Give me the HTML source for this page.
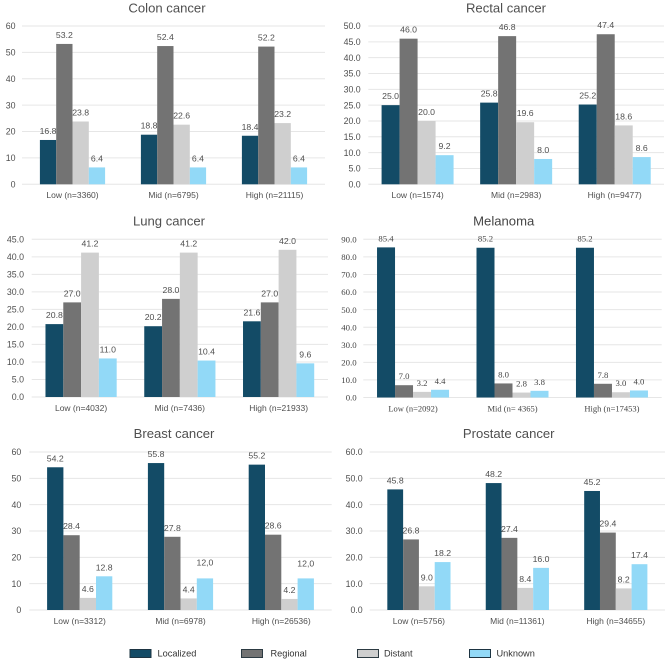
<!DOCTYPE html>
<html lang="en">
<head>
<meta charset="utf-8">
<title>Cancer stage distribution by group</title>
<style>
  html, body { margin: 0; padding: 0; background: #ffffff; }
  #figure { display: block; width: 669px; height: 661px; filter: blur(0.3px); }
  text { font-family: "Liberation Sans", Arial, sans-serif; fill: #4f4f4f; }
  .serif text { font-family: "Liberation Serif", "Times New Roman", serif; fill: #454545; }
  .serif .chart-title { font-family: "Liberation Sans", Arial, sans-serif; }
</style>
</head>
<body>
<svg id="figure" xmlns="http://www.w3.org/2000/svg" width="669" height="661" viewBox="0 0 669 661">
  <rect x="0" y="0" width="669" height="661" fill="#ffffff"/>
  <g id="charts"></g>
  <g id="legend">
    <g>
      <rect x="130" y="649.5" width="21" height="8" fill="#134b66" stroke="#1d3442" stroke-width="1"/>
      <text x="157.5" y="656.5" font-size="9.2" style="fill:#333333">Localized</text>
    </g>
    <g>
      <rect x="241.5" y="649.5" width="21" height="8" fill="#737373" stroke="#2c3a42" stroke-width="1"/>
      <text x="270.5" y="656.5" font-size="9.2" style="fill:#333333">Regional</text>
    </g>
    <g>
      <rect x="357.5" y="649.5" width="21" height="8" fill="#cfcfcf" stroke="#2c3a42" stroke-width="1"/>
      <text x="384" y="656.5" font-size="9.2" style="fill:#333333">Distant</text>
    </g>
    <g>
      <rect x="469.5" y="649.5" width="21" height="8" fill="#92d9f7" stroke="#1d3442" stroke-width="1"/>
      <text x="496.5" y="656.5" font-size="9.2" style="fill:#333333">Unknown</text>
    </g>
  </g>
</svg>
<script>
// Chart data
const seriesNames = ["localized", "regional", "distant", "unknown"];

const colonCategories = ["Low (n=3360)", "Mid (n=6795)", "High (n=21115)"];
const colonTicks = ["0", "10", "20", "30", "40", "50", "60"];
const colonLocalized = [16.8, 18.8, 18.4];
const colonRegional = [53.2, 52.4, 52.2];
const colonDistant = [23.8, 22.6, 23.2];
const colonUnknown = [6.4, 6.4, 6.4];

const rectalCategories = ["Low (n=1574)", "Mid (n=2983)", "High (n=9477)"];
const rectalTicks = ["0.0", "5.0", "10.0", "15.0", "20.0", "25.0", "30.0", "35.0", "40.0", "45.0", "50.0"];
const rectalLocalized = [25.0, 25.8, 25.2];
const rectalRegional = [46.0, 46.8, 47.4];
const rectalDistant = [20.0, 19.6, 18.6];
const rectalUnknown = [9.2, 8.0, 8.6];

const lungCategories = ["Low (n=4032)", "Mid (n=7436)", "High (n=21933)"];
const lungTicks = ["0.0", "5.0", "10.0", "15.0", "20.0", "25.0", "30.0", "35.0", "40.0", "45.0"];
const lungLocalized = [20.8, 20.2, 21.6];
const lungRegional = [27.0, 28.0, 27.0];
const lungDistant = [41.2, 41.2, 42.0];
const lungUnknown = [11.0, 10.4, 9.6];

const melanomaCategories = ["Low (n=2092)", "Mid (n= 4365)", "High (n=17453)"];
const melanomaTicks = ["0.0", "10.0", "20.0", "30.0", "40.0", "50.0", "60.0", "70.0", "80.0", "90.0"];
const melanomaLocalized = [85.4, 85.2, 85.2];
const melanomaRegional = [7.0, 8.0, 7.8];
const melanomaDistant = [3.2, 2.8, 3.0];
const melanomaUnknown = [4.4, 3.8, 4.0];

const breastCategories = ["Low (n=3312)", "Mid (n=6978)", "High (n=26536)"];
const breastTicks = ["0", "10", "20", "30", "40", "50", "60"];
const breastLocalized = [54.2, 55.8, 55.2];
const breastRegional = [28.4, 27.8, 28.6];
const breastDistant = [4.6, 4.4, 4.2];
const breastUnknown = [12.8, 12.0, 12.0];
const breastUnknownPrinted = ["12.8", "12,0", "12,0"];

const prostateCategories = ["Low (n=5756)", "Mid (n=11361)", "High (n=34655)"];
const prostateTicks = ["0.0", "10.0", "20.0", "30.0", "40.0", "50.0", "60.0"];
const prostateLocalized = [45.8, 48.2, 45.2];
const prostateRegional = [26.8, 27.4, 29.4];
const prostateDistant = [9.0, 8.4, 8.2];
const prostateUnknown = [18.2, 16.0, 17.4];

// Layout and style
const seriesColors = ["#134b66", "#737373", "#cfcfcf", "#92d9f7"];
const SVG_NS = "http://www.w3.org/2000/svg";

const charts = [
  { key: "colon", title: "Colon cancer", titleX: 167, titleY: 12.5, left: 22, right: 325, top: 26, bottom: 184.3, barW: 16.3, tickX: 15.5, maxY: 60,
    categories: colonCategories, ticks: colonTicks, series: [colonLocalized, colonRegional, colonDistant, colonUnknown] },
  { key: "rectal", title: "Rectal cancer", titleX: 506, titleY: 12.5, left: 368.3, right: 664, top: 26, bottom: 184.3, barW: 18, tickX: 360.7, maxY: 50,
    categories: rectalCategories, ticks: rectalTicks, series: [rectalLocalized, rectalRegional, rectalDistant, rectalUnknown] },
  { key: "lung", title: "Lung cancer", titleX: 169, titleY: 225.5, left: 31.7, right: 328, top: 239.3, bottom: 397, barW: 17.8, tickX: 24, maxY: 45,
    categories: lungCategories, ticks: lungTicks, series: [lungLocalized, lungRegional, lungDistant, lungUnknown] },
  { key: "melanoma", title: "Melanoma", titleX: 503.7, titleY: 225.5, left: 363.3, right: 661.7, top: 239.3, bottom: 397.5, barW: 18, tickX: 356.7, maxY: 90, serif: true,
    categories: melanomaCategories, ticks: melanomaTicks, series: [melanomaLocalized, melanomaRegional, melanomaDistant, melanomaUnknown] },
  { key: "breast", title: "Breast cancer", titleX: 174, titleY: 438, left: 29.3, right: 331.7, top: 452, bottom: 610, barW: 16.3, tickX: 21.3, maxY: 60,
    categories: breastCategories, ticks: breastTicks, series: [breastLocalized, breastRegional, breastDistant, breastUnknown],
    printedUnknown: breastUnknownPrinted, unknownLift: [0, 7, 6] },
  { key: "prostate", title: "Prostate cancer", titleX: 508.7, titleY: 438, left: 369.7, right: 665, top: 452, bottom: 610, barW: 15.8, tickX: 362.7, maxY: 60,
    categories: prostateCategories, ticks: prostateTicks, series: [prostateLocalized, prostateRegional, prostateDistant, prostateUnknown] }
];

function svgEl(tag, attrs, text) {
  const el = document.createElementNS(SVG_NS, tag);
  Object.keys(attrs).forEach(function (k) { el.setAttribute(k, attrs[k]); });
  if (text !== undefined) { el.textContent = text; }
  return el;
}

const root = document.getElementById("charts");

charts.forEach(function (chart) {
  const yScale = function (v) {
    return chart.bottom - (v / chart.maxY) * (chart.bottom - chart.top);
  };
  const band = (chart.right - chart.left) / chart.categories.length;
  const xCenter = function (i) { return chart.left + (i + 0.5) * band; };
  const xBar = function (i, s) {
    return xCenter(i) - (chart.series.length * chart.barW) / 2 + s * chart.barW;
  };

  const group = svgEl("g", { class: chart.serif ? "serif" : "sans" });
  
  
  root.appendChild(group);

  const title = svgEl("text", { class: "chart-title", x: chart.titleX, y: chart.titleY, "font-size": 13.1, "text-anchor": "middle" }, chart.title);
  
  
  group.appendChild(title);

  chart.ticks.forEach(function (label) {
    const value = parseFloat(label);
    const y = yScale(value);
    const grid = svgEl("line", { x1: chart.left, x2: chart.right, y1: y, y2: y, stroke: "#e6e6e6", "stroke-width": 1 });
    
    
    group.appendChild(grid);
    const tick = svgEl("text", { x: chart.tickX, y: y + 3.2, "font-size": 8.8, "text-anchor": "end" }, label);
    
    
    group.appendChild(tick);
  });

  chart.series.forEach(function (values, s) {
    values.forEach(function (value, i) {
      const y = yScale(value);
      const bar = svgEl("rect", { x: xBar(i, s), y: y, width: chart.barW, height: chart.bottom - y, fill: seriesColors[s] });
      
      
      group.appendChild(bar);
    });
  });

  chart.series.forEach(function (values, s) {
    values.forEach(function (value, i) {
      const isUnknown = s === 3;
      const printed = (isUnknown && chart.printedUnknown) ? chart.printedUnknown[i] : value.toFixed(1);
      const lift = (isUnknown && chart.unknownLift) ? chart.unknownLift[i] : 0;
      const label = svgEl("text", { x: xBar(i, s) + chart.barW / 2, y: yScale(value) - 6 - lift, "font-size": 8.7, "text-anchor": "middle" }, printed);
      
      
      group.appendChild(label);
    });
  });

  chart.categories.forEach(function (name, i) {
    const cat = svgEl("text", { x: xCenter(i), y: chart.bottom + 13.8, "font-size": 8.5, "text-anchor": "middle" }, name);
    
    
    group.appendChild(cat);
  });
});
</script>
</body>
</html>
